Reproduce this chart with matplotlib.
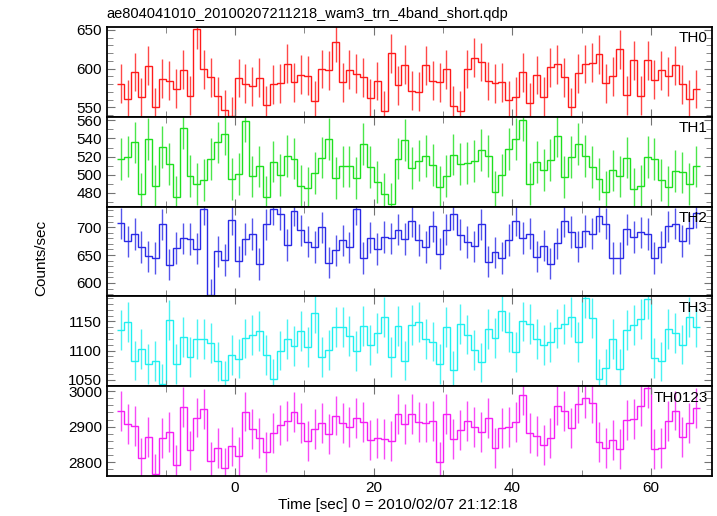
import matplotlib
matplotlib.use('Agg')
import matplotlib.pyplot as plt
import numpy as np
from matplotlib.ticker import MultipleLocator

plt.rcParams['font.family'] = ['Liberation Sans', 'DejaVu Sans']

TITLE = 'ae804041010_20100207211218_wam3_trn_4band_short.qdp'
XLABEL = 'Time [sec] 0 = 2010/02/07 21:12:18'
YLABEL = 'Counts/sec'

# 1 s bins, centres -16.5 ... 66.5
T_START = -16.5
BIN = 1.0

TH0 = [580.4, 560.9, 595.7, 563.5, 603.9, 550.0, 587.0, 584.3, 574.0, 598.7,
       565.2, 650.9, 599.0, 589.0, 564.3, 547.0, 539.0, 587.8, 580.4, 577.4,
       588.3, 553.0, 579.6, 581.0, 606.5, 582.2, 592.2, 590.9, 558.7, 599.6,
       597.8, 633.9, 582.2, 598.7, 593.5, 589.0, 562.2, 583.9, 545.6, 619.6,
       578.7, 605.2, 571.7, 570.4, 604.3, 584.3, 582.2, 599.1, 552.2, 545.6,
       599.6, 614.3, 608.7, 583.9, 580.9, 582.2, 559.6, 563.9, 595.2, 556.1,
       591.7, 563.9, 601.7, 605.7, 588.7, 550.4, 593.9, 606.1, 607.8, 618.3,
       580.9, 590.0, 624.8, 565.7, 610.9, 565.2, 610.9, 585.6, 597.8, 590.0,
       604.3, 579.6, 560.9, 573.9]
TH1 = [517.1, 520.0, 535.6, 479.3, 539.6, 487.6, 530.5, 512.0, 475.6, 551.3,
       498.9, 489.8, 494.2, 517.1, 535.6, 545.1, 495.3, 501.1, 559.3, 498.2,
       509.1, 475.6, 514.5, 499.6, 520.4, 517.8, 487.6, 485.5, 501.8, 518.9,
       539.6, 496.4, 509.1, 509.1, 496.4, 533.5, 508.4, 492.4, 478.9, 467.6,
       517.8, 538.2, 507.3, 515.6, 520.4, 510.9, 486.5, 498.5, 522.2, 512.0,
       513.1, 514.9, 527.6, 520.4, 481.5, 499.6, 528.0, 539.3, 560.7, 490.2,
       513.8, 505.1, 516.0, 542.9, 497.8, 519.3, 533.8, 520.7, 508.4, 495.3,
       481.5, 504.7, 498.2, 518.9, 484.0, 488.0, 519.6, 517.1, 494.5, 486.5,
       504.0, 502.5, 489.5, 509.1]
TH2 = [707.1, 674.4, 687.5, 664.3, 647.6, 644.7, 705.4, 632.8, 662.5, 679.8,
       678.6, 661.3, 732.1, 579.2, 656.6, 641.1, 713.7, 638.7, 678.6, 687.5,
       634.0, 705.4, 732.1, 723.2, 667.9, 729.8, 694.6, 673.8, 664.3, 699.4,
       636.3, 658.3, 676.2, 663.7, 732.1, 644.7, 681.0, 660.7, 682.2, 679.8,
       695.2, 678.6, 710.7, 676.8, 664.3, 701.2, 652.4, 695.2, 723.2, 686.3,
       673.2, 665.5, 705.4, 638.1, 654.8, 644.7, 676.8, 711.9, 680.4, 688.1,
       647.0, 666.7, 634.5, 670.8, 710.7, 691.1, 664.9, 692.9, 688.1, 719.6,
       706.5, 644.7, 644.7, 696.4, 682.2, 690.5, 687.5, 644.7, 664.3, 701.8,
       706.0, 675.0, 698.2, 726.2]
TH3 = [1135.8, 1148.9, 1083.0, 1102.9, 1077.3, 1081.8, 1043.2, 1152.3, 1077.3, 1123.3,
       1089.2, 1119.9, 1119.9, 1113.1, 1081.3, 1048.9, 1092.1, 1086.4, 1121.0, 1126.7,
       1133.5, 1092.1, 1051.7, 1100.0, 1119.9, 1108.0, 1133.5, 1106.3, 1164.2, 1089.2,
       1101.2, 1140.3, 1140.3, 1125.0, 1099.4, 1142.0, 1109.7, 1129.6, 1157.4, 1089.2,
       1142.6, 1083.0, 1143.8, 1149.4, 1120.4, 1115.4, 1077.3, 1140.9, 1065.9, 1146.0,
       1127.3, 1101.2, 1079.6, 1137.5, 1121.6, 1167.6, 1131.8, 1097.2, 1150.0, 1145.5,
       1119.9, 1109.1, 1114.8, 1138.1, 1145.5, 1158.0, 1114.8, 1189.8, 1155.7, 1051.7,
       1069.3, 1119.9, 1068.8, 1135.8, 1143.8, 1154.0, 1188.0, 1087.5, 1081.3, 1136.9,
       1129.6, 1110.2, 1157.4, 1140.3]
TH0123 = [2943.4, 2907.6, 2901.0, 2811.4, 2870.8, 2766.1, 2868.0, 2884.0, 2791.6, 2955.7,
          2833.1, 2925.5, 2950.0, 2802.0, 2839.7, 2783.1, 2844.4, 2816.1, 2942.5, 2893.4,
          2868.0, 2829.3, 2882.1, 2905.7, 2916.1, 2940.6, 2910.4, 2858.6, 2892.5, 2910.4,
          2879.3, 2931.2, 2910.4, 2898.2, 2923.6, 2912.3, 2862.3, 2868.9, 2866.1, 2859.5,
          2935.9, 2906.6, 2935.9, 2913.2, 2911.4, 2915.1, 2800.1, 2935.9, 2865.2, 2891.6,
          2915.1, 2898.2, 2884.0, 2924.6, 2840.6, 2897.2, 2899.1, 2913.2, 2989.6, 2882.1,
          2874.6, 2848.2, 2868.9, 2959.5, 2944.4, 2896.3, 2965.1, 2979.3, 2967.0, 2857.6,
          2839.7, 2862.3, 2837.8, 2918.9, 2921.7, 2958.5, 3009.4, 2836.9, 2840.6, 2916.1,
          2945.3, 2869.9, 2909.5, 2952.9]

# approximate 1-sigma error per band
ERRORS = [25, 23, 28, 34, 56]
NAMES = ['TH0', 'TH1', 'TH2', 'TH3', 'TH0123']
COLORS = ['#ff1a1a', '#1ee01e', '#2a2ae6', '#1ef0f0', '#f51ef5']
YLIMS = [(538, 654), (465, 564), (576, 737), (1039, 1193), (2761, 3014)]
YMAJOR = [50, 20, 50, 50, 100]
YMINOR = [10, 10, 10, 10, 20]


def main():
    series = [TH0, TH1, TH2, TH3, TH0123]
    fig, axes = plt.subplots(5, 1, sharex=True, figsize=(7.17, 5.16), dpi=100)
    fig.subplots_adjust(left=0.149, right=0.993, top=0.948, bottom=0.0775, hspace=0)

    for ax, vals, err, name, col, yl, ymaj, ymin in zip(axes, series, ERRORS, NAMES, COLORS,
                                                          YLIMS, YMAJOR, YMINOR):
        vals = np.array(vals)
        t = T_START + BIN * np.arange(len(vals))
        edges = np.append(t - BIN / 2, t[-1] + BIN / 2)
        ax.stairs(vals, edges, color=col, lw=1.0, baseline=None)
        ax.errorbar(t, vals, yerr=err, fmt='none', ecolor=col, elinewidth=1.0, alpha=0.8)
        ax.set_ylim(*yl)
        ax.yaxis.set_major_locator(MultipleLocator(ymaj))
        ax.yaxis.set_minor_locator(MultipleLocator(ymin))
        ax.xaxis.set_major_locator(MultipleLocator(20))
        ax.xaxis.set_minor_locator(MultipleLocator(10))
        ax.tick_params(which='both', direction='in', top=True, right=True, color='0.45',
                       labelsize=11)
        ax.tick_params(which='major', length=6)
        ax.tick_params(which='minor', length=4.5)
        for s in ax.spines.values():
            s.set_linewidth(1.3)
        ax.text(0.993, 0.95, name, transform=ax.transAxes, ha='right', va='top', fontsize=11)

    axes[-1].set_xlim(-18.5, 68.8)
    fig.text(0.555, 0.022, XLABEL, ha='center', va='center', fontsize=11)
    fig.text(0.058, 0.5, YLABEL, rotation=90, ha='center', va='center', fontsize=11)
    fig.text(0.149, 0.972, TITLE, ha='left', va='center', fontsize=10.5)

    fig.savefig('out.png', dpi=100)


if __name__ == '__main__':
    main()
